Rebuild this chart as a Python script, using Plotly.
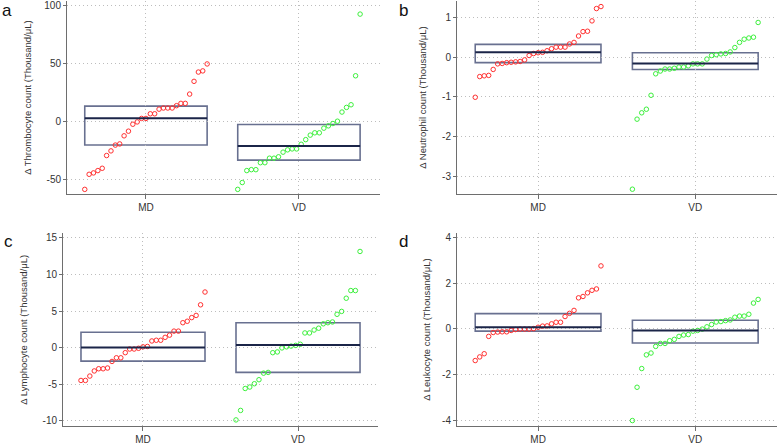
import plotly.graph_objects as go

# ---------------- data ----------------
categories = ["MD", "VD"]

thr_md = [-58.2, -45.2, -44, -42, -40, -29, -25, -20, -19, -12, -8, -2, 0, 3, 3, 7, 7, 11, 12, 12,
          12, 14, 16, 16, 24, 35, 43, 44, 50]
thr_vd = [-58.2, -52.3, -42, -41.2, -41.2, -35.2, -35.2, -31.3, -31.3, -30.1, -26.1, -24.1, -23.3,
          -23.3, -19.3, -15.3, -11.4, -9.4, -9.4, -5.4, -3.4, -1.4, 0.6, 8.5, 12.5, 14.8, 39.8, 93]
thr_box = {"q1": [-19.9, -33.0], "med": [3.1, -20.7], "q3": [13.6, -2.3]}

neu_md = [-1.01, -0.49, -0.47, -0.46, -0.31, -0.17, -0.16, -0.14, -0.13, -0.12, -0.11, -0.07, 0.04,
          0.09, 0.11, 0.12, 0.16, 0.21, 0.25, 0.25, 0.25, 0.33, 0.37, 0.53, 0.64, 0.65, 0.91, 1.22, 1.27]
neu_vd = [-3.32, -1.56, -1.40, -1.31, -0.96, -0.42, -0.35, -0.30, -0.30, -0.28, -0.25, -0.25, -0.22,
          -0.17, -0.17, -0.17, -0.05, 0.04, 0.06, 0.08, 0.09, 0.13, 0.24, 0.37, 0.45, 0.48, 0.50, 0.87]
neu_box = {"q1": [-0.14, -0.31], "med": [0.12, -0.16], "q3": [0.32, 0.11]}

lym_md = [-4.5, -4.5, -3.9, -3.2, -2.9, -2.9, -2.8, -1.9, -1.4, -1.4, -0.7, -0.2, -0.2, -0.1, 0.1,
          0.15, 0.9, 1.0, 1.0, 1.4, 1.7, 2.25, 2.25, 3.4, 3.6, 4.1, 4.4, 5.85, 7.6]
lym_vd = [-9.9, -8.6, -5.6, -5.4, -4.95, -4.4, -3.5, -3.4, -0.7, -0.6, -0.05, 0.1, 0.2, 0.3, 0.45,
          2.0, 2.0, 2.4, 2.65, 3.25, 3.4, 3.5, 4.55, 4.95, 6.75, 7.8, 7.8, 13.15]
lym_box = {"q1": [-1.85, -3.4], "med": [0.0, 0.35], "q3": [2.1, 3.4]}

leu_md = [-1.39, -1.23, -1.09, -0.33, -0.16, -0.14, -0.13, -0.13, -0.07, -0.03, -0.01, -0.01, -0.01,
          0.01, 0.07, 0.12, 0.13, 0.22, 0.29, 0.29, 0.54, 0.68, 0.81, 1.36, 1.42, 1.58, 1.69, 1.75, 2.76]
leu_vd = [-4.02, -2.56, -1.74, -1.14, -1.06, -0.77, -0.64, -0.64, -0.52, -0.46, -0.33, -0.27, -0.25,
          -0.10, -0.07, -0.01, 0.09, 0.19, 0.30, 0.32, 0.36, 0.39, 0.51, 0.56, 0.56, 0.64, 1.13, 1.29]
leu_box = {"q1": [-0.10, -0.62], "med": [0.07, -0.07], "q3": [0.67, 0.38]}

thr_ticks = [100, 50, 0, -50]
neu_ticks = [1, 0, -1, -2, -3]
lym_ticks = [15, 10, 5, 0, -5, -10]
leu_ticks = [4, 2, 0, -2, -4]

panels = [
    dict(letter="a", md=thr_md, vd=thr_vd, box=thr_box, ticks=thr_ticks, yr=[-62.5, 104.3],
         title="Δ Thrombocyte count (Thousand/μL)"),
    dict(letter="b", md=neu_md, vd=neu_vd, box=neu_box, ticks=neu_ticks, yr=[-3.45, 1.41],
         title="Δ Neutrophil count (Thousand/μL)"),
    dict(letter="c", md=lym_md, vd=lym_vd, box=lym_box, ticks=lym_ticks, yr=[-10.8, 15.7],
         title="Δ Lymphocyte count (Thousand/μL)"),
    dict(letter="d", md=leu_md, vd=leu_vd, box=leu_box, ticks=leu_ticks, yr=[-4.28, 4.21],
         title="Δ Leukocyte count (Thousand/μL)"),
]

# ---------------- layout geometry (pixels) ----------------
W, H = 777, 445
xdoms_px = [(67, 380), (457, 777), (63, 378), (457, 777)]
ydoms_px = [(0, 196), (0, 196), (235, 431.3), (235, 431.3)]
title_x_px = [28, 423, 24, 427]
letter_pos = [(7, 10), (403, 10), (8, 244), (403, 244)]
xranges = [[0.484, 2.53], [0.484, 2.52], [0.484, 2.516], [0.484, 2.52]]

HALF = 0.4
RED = "#ff3030"
GREEN = "#3cf03c"
BOX_EDGE = "#687090"
MED_COL = "#1b2548"
GRID = "#bdbdbd"
AX = "#6e6e6e"
FONT = "Liberation Sans, Arial, sans-serif"

fig = go.Figure()
annotations = []
shapes = []

for i, p in enumerate(panels):
    n = i + 1
    xs = "x" if n == 1 else f"x{n}"
    ys = "y" if n == 1 else f"y{n}"
    for ci, (vals, col) in enumerate([(p["md"], RED), (p["vd"], GREEN)]):
        center = ci + 1
        vals_sorted = sorted(vals)
        k = len(vals_sorted)
        xpos = [center - HALF + 2 * HALF * j / (k - 1) for j in range(k)]
        fig.add_trace(go.Scatter(
            x=xpos, y=vals_sorted, mode="markers", xaxis=xs, yaxis=ys,
            marker=dict(symbol="circle-open", size=4.5, color=col, line=dict(width=1, color=col)),
            showlegend=False, hoverinfo="y"))
        q1, med, q3 = p["box"]["q1"][ci], p["box"]["med"][ci], p["box"]["q3"][ci]
        shapes.append(dict(type="rect", xref=xs, yref=ys, x0=center - HALF, x1=center + HALF,
                           y0=q1, y1=q3, line=dict(color=BOX_EDGE, width=1.6), layer="below"))
        shapes.append(dict(type="line", xref=xs, yref=ys, x0=center - HALF, x1=center + HALF,
                           y0=med, y1=med, line=dict(color=MED_COL, width=2), layer="above"))

    x0p, x1p = xdoms_px[i]
    y0p, y1p = ydoms_px[i]
    xdom = [x0p / W, x1p / W]
    ydom = [(H - y1p) / H, (H - y0p) / H]
    xkey = "xaxis" if n == 1 else f"xaxis{n}"
    ykey = "yaxis" if n == 1 else f"yaxis{n}"
    fig.layout[xkey] = dict(
        domain=xdom, range=xranges[i], anchor=ys, tickvals=[1, 2], ticktext=categories,
        showgrid=True, gridcolor=GRID, griddash="1px,3px", gridwidth=1,
        showline=True, linecolor=AX, linewidth=1, ticks="outside", ticklen=4, tickcolor=AX,
        tickfont=dict(family=FONT, size=10, color="#333333"), zeroline=False, fixedrange=True)
    fig.layout[ykey] = dict(
        domain=ydom, range=p["yr"], anchor=xs, tickvals=p["ticks"],
        ticktext=[str(t) for t in p["ticks"]],
        showgrid=True, gridcolor=GRID, griddash="1px,3px", gridwidth=1,
        showline=True, linecolor=AX, linewidth=1, ticks="outside", ticklen=3, tickcolor=AX,
        tickfont=dict(family=FONT, size=10, color="#333333"), zeroline=False, fixedrange=True)

    annotations.append(dict(
        text=p["title"], xref="paper", yref="paper", x=title_x_px[i] / W,
        y=(H - (y0p + y1p) / 2) / H, textangle=-90, showarrow=False,
        xanchor="center", yanchor="middle", font=dict(family=FONT, size=9.5, color="#333333")))
    lx, ly = letter_pos[i]
    annotations.append(dict(
        text=p["letter"], xref="paper", yref="paper", x=lx / W, y=(H - ly) / H,
        showarrow=False, xanchor="center", yanchor="middle",
        font=dict(family=FONT, size=17, color="#111111")))

fig.update_layout(
    width=W, height=H, margin=dict(l=0, r=0, t=0, b=0),
    paper_bgcolor="white", plot_bgcolor="white",
    shapes=shapes, annotations=annotations, showlegend=False)

fig.write_html("out.html")
